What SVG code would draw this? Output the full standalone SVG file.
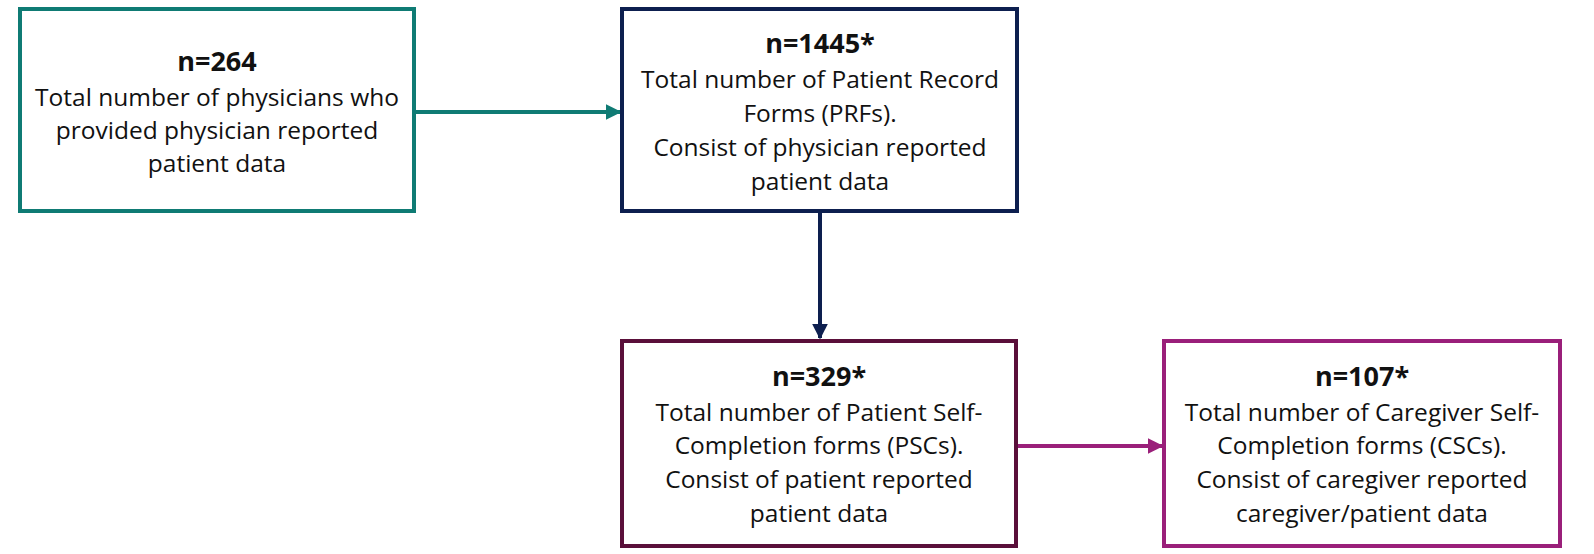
<svg xmlns="http://www.w3.org/2000/svg" width="1594" height="554" viewBox="0 0 1594 554">
<style>
.box{fill:#fff;stroke-width:4}
text{font-family:"Open Sans","Liberation Sans",sans-serif;font-size:24.5px;fill:#111;text-anchor:middle}
.b{font-weight:bold;font-size:27px}
.c{fill:none;stroke-width:4}
</style>
<defs>
<marker id="mt" viewBox="0 0 10 10" refX="9" refY="5" markerWidth="4" markerHeight="4" orient="auto"><path d="M0,0L10,5L0,10z" fill="#0f7b74"/></marker>
<marker id="mn" viewBox="0 0 10 10" refX="9" refY="5" markerWidth="4" markerHeight="4" orient="auto"><path d="M0,0L10,5L0,10z" fill="#0d1f4f"/></marker>
<marker id="mm" viewBox="0 0 10 10" refX="9" refY="5" markerWidth="4" markerHeight="4" orient="auto"><path d="M0,0L10,5L0,10z" fill="#9a1f7a"/></marker>
</defs>
<rect width="1594" height="554" fill="#fff"/>
<g id="connectors">
<line class="c" x1="414" y1="112" x2="620" y2="112" stroke="#0f7b74" marker-end="url(#mt)"/>
<line class="c" x1="820" y1="211" x2="820" y2="338" stroke="#0d1f4f" marker-end="url(#mn)"/>
<line class="c" x1="1016" y1="446" x2="1162" y2="446" stroke="#9a1f7a" marker-end="url(#mm)"/>
</g>
<g id="n1">
<rect class="box" x="20" y="9" width="394" height="202" stroke="#0f7b74"/>
<text class="b" x="217" y="71">n=264</text>
<text x="217" y="106">Total number of physicians who</text>
<text x="217" y="139">provided physician reported</text>
<text x="217" y="172">patient data</text>
</g>
<g id="n2">
<rect class="box" x="622" y="9" width="395" height="202" stroke="#0d1f4f"/>
<text class="b" x="820" y="53">n=1445*</text>
<text x="820" y="88">Total number of Patient Record</text>
<text x="820" y="122">Forms (PRFs).</text>
<text x="820" y="156">Consist of physician reported</text>
<text x="820" y="190">patient data</text>
</g>
<g id="n3">
<rect class="box" x="622" y="341" width="394" height="205" stroke="#5a0f3a"/>
<text class="b" x="819" y="386">n=329*</text>
<text x="819" y="421">Total number of Patient Self-</text>
<text x="819" y="454">Completion forms (PSCs).</text>
<text x="819" y="488">Consist of patient reported</text>
<text x="819" y="522">patient data</text>
</g>
<g id="n4">
<rect class="box" x="1164" y="341" width="396" height="205" stroke="#9a1f7a"/>
<text class="b" x="1362" y="386">n=107*</text>
<text x="1362" y="421">Total number of Caregiver Self-</text>
<text x="1362" y="454">Completion forms (CSCs).</text>
<text x="1362" y="488">Consist of caregiver reported</text>
<text x="1362" y="522">caregiver/patient data</text>
</g>
</svg>
